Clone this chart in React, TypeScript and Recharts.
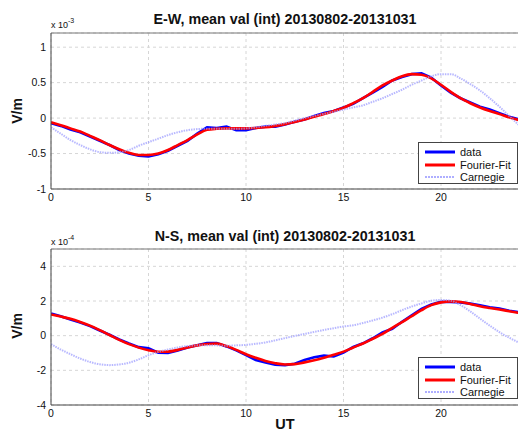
import { LineChart, Line, XAxis, YAxis, CartesianGrid, ReferenceLine } from 'recharts'

const FONT = '"Liberation Sans", Arial, Helvetica, sans-serif'

// hours of day, half-hour steps
const HOURS = [
  0, 0.5, 1, 1.5, 2, 2.5, 3, 3.5, 4, 4.5, 5, 5.5, 6, 6.5, 7, 7.5, 8, 8.5, 9, 9.5,
  10, 10.5, 11, 11.5, 12, 12.5, 13, 13.5, 14, 14.5, 15, 15.5, 16, 16.5, 17, 17.5,
  18, 18.5, 19, 19.5, 20, 20.5, 21, 21.5, 22, 22.5, 23, 23.5, 24,
]
const X_TICKS = [0, 5, 10, 15, 20]

// E-W, x 10^-3 V/m
const EW_DATA = [
  -0.07, -0.11, -0.16, -0.2, -0.26, -0.32, -0.38, -0.45, -0.5, -0.53, -0.54, -0.51, -0.46, -0.39, -0.32, -0.22,
  -0.13, -0.14, -0.12, -0.17, -0.17, -0.14, -0.12, -0.12, -0.09, -0.05, -0.02, 0.03, 0.07, 0.1, 0.15, 0.2,
  0.28, 0.36, 0.44, 0.53, 0.58, 0.62, 0.63, 0.57, 0.46, 0.36, 0.28, 0.22, 0.16, 0.12, 0.07, 0.02, -0.02,
]
const EW_FIT = [
  -0.06, -0.1, -0.145, -0.19, -0.25, -0.31, -0.38, -0.44, -0.49, -0.52, -0.52, -0.5, -0.45, -0.38, -0.31, -0.23,
  -0.165, -0.15, -0.145, -0.145, -0.145, -0.14, -0.13, -0.11, -0.085, -0.055, -0.02, 0.02, 0.056, 0.1, 0.145, 0.21,
  0.28, 0.37, 0.46, 0.53, 0.59, 0.62, 0.61, 0.56, 0.47, 0.37, 0.28, 0.21, 0.15, 0.1, 0.056, 0.01, -0.03,
]
const EW_CARNEGIE = [
  -0.13, -0.22, -0.31, -0.38, -0.44, -0.48, -0.49, -0.48, -0.45, -0.39, -0.34, -0.29, -0.24, -0.2, -0.17, -0.155,
  -0.15, -0.15, -0.15, -0.15, -0.145, -0.13, -0.11, -0.09, -0.07, -0.035, 0, 0.03, 0.06, 0.09, 0.12, 0.15,
  0.18, 0.23, 0.28, 0.34, 0.4, 0.47, 0.53, 0.59, 0.62, 0.62, 0.56, 0.48, 0.39, 0.28, 0.16, 0.03, -0.1,
]
const EW_TICKS = [-1, -0.5, 0, 0.5, 1]

// N-S, x 10^-4 V/m
const NS_DATA = [
  1.28, 1.12, 0.93, 0.76, 0.55, 0.3, 0.05, -0.22, -0.45, -0.66, -0.72, -0.98, -1.0, -0.85, -0.68, -0.55,
  -0.42, -0.42, -0.62, -0.85, -1.12, -1.4, -1.55, -1.68, -1.7, -1.62, -1.4, -1.25, -1.15, -1.2, -0.98, -0.65,
  -0.44, -0.15, 0.18, 0.4, 0.8, 1.18, 1.55, 1.8, 1.95, 1.95, 1.92, 1.85, 1.75, 1.64, 1.56, 1.44, 1.35,
]
const NS_FIT = [
  1.22, 1.1, 0.97, 0.79, 0.58, 0.32, 0.04, -0.24, -0.49, -0.69, -0.84, -0.93, -0.92, -0.82, -0.68, -0.56,
  -0.48, -0.46, -0.6, -0.82, -1.07, -1.28, -1.46, -1.59, -1.66, -1.64, -1.54, -1.42, -1.27, -1.1, -0.92, -0.68,
  -0.45, -0.18, 0.1, 0.45, 0.78, 1.13, 1.47, 1.76, 1.92, 1.98, 1.94, 1.83, 1.7, 1.6, 1.51, 1.41, 1.31,
]
const NS_CARNEGIE = [
  -0.49, -0.8, -1.07, -1.32, -1.52, -1.65, -1.7, -1.66, -1.56, -1.37, -1.13, -0.94, -0.8, -0.68, -0.6, -0.56,
  -0.55, -0.56, -0.58, -0.56, -0.53, -0.47, -0.39, -0.27, -0.14, -0.02, 0.1, 0.22, 0.33, 0.43, 0.53, 0.6,
  0.73, 0.88, 1.04, 1.24, 1.47, 1.68, 1.86, 2.02, 2.06, 2.02, 1.76, 1.4, 0.98, 0.58, 0.2, -0.12, -0.4,
]
const NS_TICKS = [-4, -2, 0, 2, 4]

const rows = (vals: number[]) => HOURS.map((h, i) => ({ h, v: vals[i] }))

const DATA_COLOR = '#0000ff'
const FIT_COLOR = '#ff0000'
const CARN_COLOR = '#9a9aff'

interface PanelProps {
  data: number[]
  fit: number[]
  carnegie: number[]
  domain: [number, number]
  ticks: number[]
}

function Panel({ data, fit, carnegie, domain, ticks }: PanelProps) {
  return (
    <LineChart width={560} height={210} margin={{ top: 33, right: 41, bottom: 0, left: 0 }}>
      <CartesianGrid strokeDasharray="3 3" stroke="#d6d6d6" />
      <XAxis
        type="number"
        dataKey="h"
        domain={[0, 24]}
        ticks={X_TICKS}
        allowDataOverflow
        height={21}
        tickSize={0}
        tickMargin={5}
        tick={{ fontSize: 10.5, fill: '#111', fontFamily: FONT }}
        axisLine={{ stroke: '#444' }}
      />
      <YAxis
        type="number"
        domain={domain}
        ticks={ticks}
        allowDataOverflow
        width={51}
        tickSize={0}
        tickMargin={5}
        tick={{ fontSize: 10.5, fill: '#111', fontFamily: FONT }}
        axisLine={{ stroke: '#444' }}
      />
      <ReferenceLine y={domain[1]} stroke="#777" />
      <Line data={rows(data)} dataKey="v" type="linear" stroke={DATA_COLOR} strokeWidth={2.6} dot={false} isAnimationActive={false} />
      <Line data={rows(fit)} dataKey="v" type="monotone" stroke={FIT_COLOR} strokeWidth={2.6} dot={false} isAnimationActive={false} />
      <Line
        data={rows(carnegie)}
        dataKey="v"
        type="monotone"
        stroke={CARN_COLOR}
        strokeOpacity={0.7}
        strokeWidth={2}
        strokeDasharray="1.5 1"
        dot={false}
        isAnimationActive={false}
      />
    </LineChart>
  )
}

function LegendBox({ top }: { top: number }) {
  const items = [
    { label: 'data', color: DATA_COLOR, width: 3, dash: undefined as string | undefined, opacity: 1 },
    { label: 'Fourier-Fit', color: FIT_COLOR, width: 3, dash: undefined, opacity: 1 },
    { label: 'Carnegie', color: CARN_COLOR, width: 2, dash: '2 1', opacity: 0.8 },
  ]
  return (
    <div
      style={{
        position: 'absolute', left: 418, top, width: 100, height: 42,
        background: '#fff', border: '1px solid #444', boxSizing: 'border-box',
        fontFamily: FONT, fontSize: 11, color: '#111',
      }}
    >
      {items.map((it, i) => (
        <div key={it.label} style={{ position: 'absolute', left: 6, top: 3 + i * 12.7, height: 12, display: 'flex', alignItems: 'center' }}>
          <svg width={30} height={6} style={{ display: 'block' }}>
            <line x1={0} x2={30} y1={3} y2={3} stroke={it.color} strokeWidth={it.width} strokeDasharray={it.dash} strokeOpacity={it.opacity} />
          </svg>
          <span style={{ marginLeft: 5, lineHeight: '12px' }}>{it.label}</span>
        </div>
      ))}
    </div>
  )
}

export default function App() {
  return (
    <div style={{ position: 'absolute', left: 0, top: 0, width: 518, height: 433, overflow: 'hidden', background: '#fff', fontFamily: FONT }}>
      <div style={{ position: 'absolute', left: 0, top: 0 }}>
        <Panel data={EW_DATA} fit={EW_FIT} carnegie={EW_CARNEGIE} domain={[-1, 1.2]} ticks={EW_TICKS} />
      </div>
      <div style={{ position: 'absolute', left: 0, top: 216 }}>
        <Panel data={NS_DATA} fit={NS_FIT} carnegie={NS_CARNEGIE} domain={[-4, 5]} ticks={NS_TICKS} />
      </div>
      <LegendBox top={142} />
      <LegendBox top={357} />
      <svg width={518} height={433} style={{ position: 'absolute', left: 0, top: 0, pointerEvents: 'none' }} fontFamily={FONT}>
        <text x={285} y={24} textAnchor="middle" fontSize={14.3} fontWeight="bold" fill="#111">
          E-W, mean val (int) 20130802-20131031
        </text>
        <text x={51} y={28} fontSize={9} fill="#111">x 10</text>
        <text x={68} y={23} fontSize={7} fill="#111">-3</text>
        <text transform="translate(22,111) rotate(-90)" textAnchor="middle" fontSize={14} fontWeight="bold" fill="#111">
          V/m
        </text>
        <text x={285} y={241} textAnchor="middle" fontSize={14.3} fontWeight="bold" fill="#111">
          N-S, mean val (int) 20130802-20131031
        </text>
        <text x={51} y={245} fontSize={9} fill="#111">x 10</text>
        <text x={68} y={240} fontSize={7} fill="#111">-4</text>
        <text transform="translate(22,326) rotate(-90)" textAnchor="middle" fontSize={14} fontWeight="bold" fill="#111">
          V/m
        </text>
        <text x={285} y={429} textAnchor="middle" fontSize={14.5} fontWeight="bold" fill="#111">
          UT
        </text>
      </svg>
    </div>
  )
}
